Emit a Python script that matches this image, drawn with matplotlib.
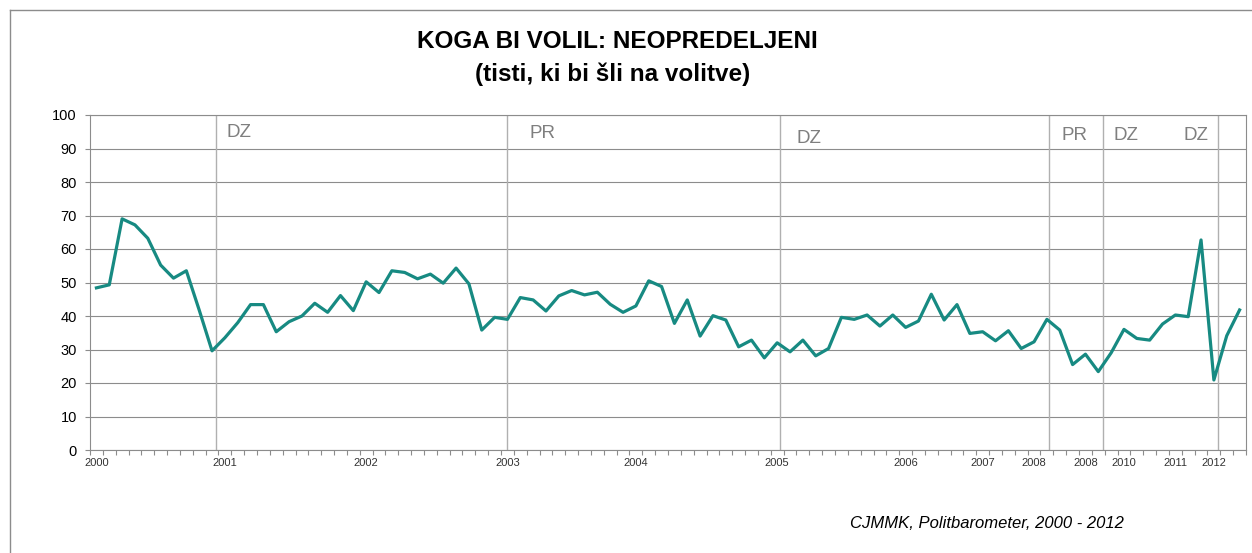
import numpy as np
import matplotlib
matplotlib.use('Agg')
import matplotlib.pyplot as plt
from matplotlib.lines import Line2D

plt.rcParams['font.family'] = ['Liberation Sans', 'DejaVu Sans']

## DATA
# share of undecided voters (%), one value per survey wave
undecided = [48.4, 49.3, 69.0, 67.2, 63.2, 55.2, 51.3, 53.5, 41.8, 29.6,
             33.5, 38.0, 43.4, 43.4, 35.3, 38.3, 40.0, 43.8, 41.1, 46.1,
             41.6, 50.2, 47.0, 53.5, 53.0, 51.1, 52.5, 49.8, 54.3, 49.6,
             35.8, 39.6, 39.0, 45.5, 44.8, 41.5, 46.0, 47.6, 46.3, 47.1,
             43.5, 41.1, 43.0, 50.5, 48.8, 37.8, 44.8, 34.0, 40.1, 38.8,
             30.8, 32.8, 27.5, 32.0, 29.3, 32.8, 28.1, 30.3, 39.6, 39.0,
             40.3, 37.0, 40.3, 36.6, 38.5, 46.5, 38.8, 43.4, 34.8, 35.3,
             32.6, 35.6, 30.3, 32.3, 39.0, 35.8, 25.5, 28.6, 23.4, 29.0,
             36.0, 33.3, 32.8, 37.6, 40.3, 39.8, 62.7, 20.9, 34.1, 41.8]

# year labels on the category axis (wave index -> label)
year_idx = [0, 10, 21, 32, 42, 53, 63, 69, 73, 77, 80, 84, 87]
year_lbl = ['2000', '2001', '2002', '2003', '2004', '2005', '2006',
            '2007', '2008', '2008', '2010', '2011', '2012']

# elections: DZ = parliamentary, PR = presidential
election_pos = [9.3, 32.0, 53.2, 74.2, 78.4, 87.3]
election_lbl = ['DZ', 'PR', 'DZ', 'PR', 'DZ', 'DZ']
election_txt_x = [10.1, 33.7, 54.5, 75.15, 79.2, 84.6]
election_txt_y = [94.8, 94.6, 93.0, 93.8, 93.8, 93.8]

## PLOT
W, H = 1252, 553
fig = plt.figure(figsize=(W / 100, H / 100), dpi=100)
ax = fig.add_axes([90 / W, 1 - 450 / H, 1156 / W, 335 / H])

x = np.arange(len(undecided))
grid_col = '#8c8c8c'

ax.set_ylim(0, 100)
ax.set_xlim(-0.5, len(undecided) - 0.5)
ax.set_yticks(np.arange(0, 101, 10))
ax.yaxis.grid(True, color=grid_col, linewidth=0.8)
ax.set_axisbelow(True)

for pos in election_pos:
    ax.axvline(pos, color='#b0b0b0', linewidth=1.0, zorder=1)
for tx, ty, lbl in zip(election_txt_x, election_txt_y, election_lbl):
    ax.text(tx, ty, lbl, fontsize=13.5, color='#7f7f7f', va='center', ha='left')

ax.plot(x, undecided, color='#178a82', linewidth=2.3, zorder=3,
        solid_joinstyle='round')

# category axis: labels on chosen waves, tick marks between categories
ax.set_xticks(year_idx)
ax.set_xticklabels(year_lbl, fontsize=8, color='#333333')
ax.tick_params(axis='x', which='major', length=0, pad=6)
ax.set_xticks(np.arange(-0.5, len(undecided), 1), minor=True)
ax.tick_params(axis='x', which='minor', length=3.5, color=grid_col, width=0.8)
ax.tick_params(axis='y', length=3.5, color=grid_col, width=0.8,
               labelsize=10.5, pad=6)

for side in ['left', 'bottom', 'right', 'top']:
    ax.spines[side].set_color(grid_col)
    ax.spines[side].set_linewidth(0.8)

fig.text(617 / W, 1 - 42 / H, 'KOGA BI VOLIL: NEOPREDELJENI',
         ha='center', va='center', fontsize=17.5, fontweight='bold')
fig.text(613 / W, 1 - 74 / H, '(tisti, ki bi šli na volitve)',
         ha='center', va='center', fontsize=17.5, fontweight='bold')
fig.text(850 / W, 1 - 523 / H, 'CJMMK, Politbarometer, 2000 - 2012',
         ha='left', va='center', fontsize=12, style='italic')

# chart frame
fig.add_artist(Line2D([10 / W, 10 / W], [0, 1 - 10 / H],
                      transform=fig.transFigure, color='#8c8c8c', lw=1))
fig.add_artist(Line2D([10 / W, 1], [1 - 10 / H, 1 - 10 / H],
                      transform=fig.transFigure, color='#8c8c8c', lw=1))

fig.savefig('out.png', dpi=100)
